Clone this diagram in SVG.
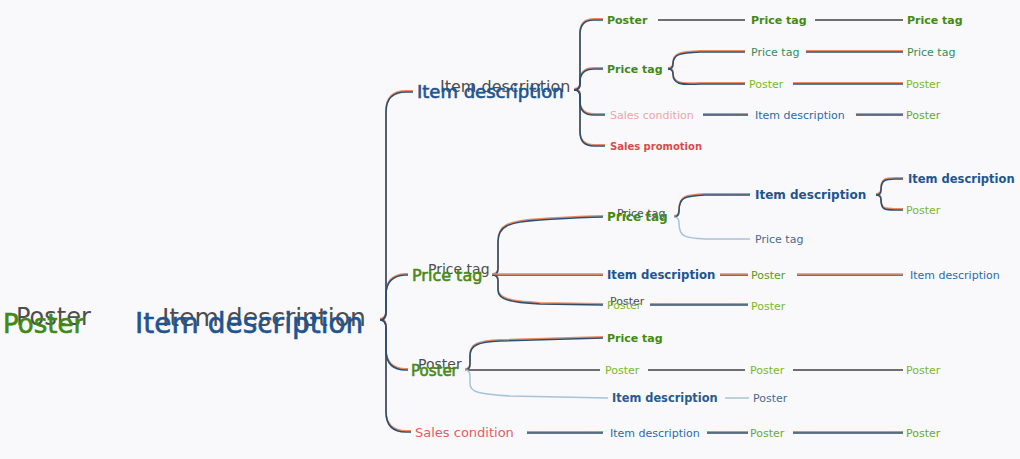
<svg xmlns="http://www.w3.org/2000/svg" xmlns:xlink="http://www.w3.org/1999/xlink" width="1020" height="459" viewBox="0 0 1020 459">
  <style>
    text { font-family: "DejaVu Sans", Verdana, sans-serif; }
    .ghost { fill: #4d4d4d; }
    .blue { fill: #1e5590; }
    .blue2 { fill: #2a6aaa; }
    .green { fill: #3f8a12; font-weight: bold; }
    .green2 { fill: #4a8a18; }
    .lgreen { fill: #7ab828; }
    .teal { fill: #3a8a5a; }
    .slate { fill: #4d6a8a; }
    .pink { fill: #eca5a5; }
    .red { fill: #d94a4a; }
    .s11 { font-size: 11px; }
    .b { font-weight: bold; }
    .heavy { stroke-width: 0.6; paint-order: stroke; }
    .edge-sh { fill: none; stroke: #ec8a64; stroke-width: 1.6; }
    .edge { fill: none; stroke: #2c4f6e; stroke-width: 1.6; }
    .edge-gray { fill: none; stroke: #6e6e6e; stroke-width: 2; }
    .edge-light { fill: none; stroke: #a9c2d6; stroke-width: 1.5; }
  </style>
  <defs>
    <!-- branch shapes, each drawn twice: warm under-stroke and dark stroke -->
    <path id="r1" d="M380,320 Q386,320 386,312 L386,112 Q386,92 406,92 L413,92"/>
    <path id="r2" d="M380,320 Q386,320 386,312 L386,295 Q386,276 405,275 L408,275"/>
    <path id="r3" d="M380,320 Q386,320 386,328 L386,350 Q386,370 406,370 L408,370"/>
    <path id="r4" d="M380,320 Q386,320 386,328 L386,412 Q386,432 406,432 L411,432"/>
    <path id="a1" d="M574,90 Q580,90 580,84 L580,34 Q580,20 594,20 L603,20"/>
    <path id="a2" d="M574,90 Q580,90 580,84 L580,82 Q580,69 594,69 L603,69"/>
    <path id="a3" d="M574,90 Q580,90 580,96 L580,102 Q580,115 594,115 L605,115"/>
    <path id="a4" d="M574,90 Q580,90 580,96 L580,132 Q580,146 594,146 L605,146"/>
    <path id="b1" d="M668,69 Q673,69 673,64 C673,54 680,53 700,52 L745,52"/>
    <path id="b2" d="M668,69 Q673,69 673,74 C673,84 680,85 700,84 L745,84"/>
    <path id="b3" d="M806,52 L903,52"/>
    <path id="b4" d="M793,84 L903,84"/>
    <path id="b5" d="M703,115 L748,115 M856,115 L903,115"/>
    <path id="p1" d="M492,275 Q498,275 498,269 L498,242 C498,226 508,222 540,220 C570,218 590,217 603,217"/>
    <path id="p2" d="M492,275 L603,275"/>
    <path id="p3" d="M492,275 Q498,275 498,281 L498,290 C498,300 510,302 540,304 L603,305"/>
    <path id="p4" d="M674,217 Q679,217 679,211 C679,197 685,196 705,195 L750,195"/>
    <path id="p5" d="M876,195 Q881,195 881,190 C881,180 885,179 895,179 L903,179"/>
    <path id="p6" d="M876,195 Q881,195 881,200 C881,210 885,210 895,210 L903,210"/>
    <path id="p7" d="M720,275 L748,275 M797,275 L903,275"/>
    <path id="p8" d="M650,305 L748,305"/>
    <path id="q1" d="M465,370 Q470,370 470,364 L470,356 C470,345 478,342 500,341 L603,338"/>
    <path id="s1" d="M527,433 L603,433 M707,433 L748,433 M793,433 L903,433"/>
  </defs>

  <rect width="1020" height="459" fill="#f9f9fc"/>

  <g id="connectors">
    <g transform="translate(0,-1.2)" class="edge-sh">
      <use xlink:href="#r1"/><use xlink:href="#r2"/><use xlink:href="#r3"/><use xlink:href="#r4"/>
      <use xlink:href="#a1"/><use xlink:href="#a2"/><use xlink:href="#a3"/><use xlink:href="#a4"/>
      <use xlink:href="#b1"/><use xlink:href="#b2"/><use xlink:href="#b3"/><use xlink:href="#b4"/><use xlink:href="#b5"/>
      <use xlink:href="#p1"/><use xlink:href="#p3"/><use xlink:href="#p4"/>
      <use xlink:href="#p5"/><use xlink:href="#p6"/><use xlink:href="#p8"/>
      <use xlink:href="#q1"/><use xlink:href="#s1"/>
    </g>
    <g class="edge">
      <use xlink:href="#r1"/><use xlink:href="#r2"/><use xlink:href="#r3"/><use xlink:href="#r4"/>
      <use xlink:href="#a1"/><use xlink:href="#a2"/><use xlink:href="#a3"/><use xlink:href="#a4"/>
      <use xlink:href="#b1"/><use xlink:href="#b2"/><use xlink:href="#b3"/><use xlink:href="#b4"/><use xlink:href="#b5"/>
      <use xlink:href="#p1"/><use xlink:href="#p3"/><use xlink:href="#p4"/>
      <use xlink:href="#p5"/><use xlink:href="#p6"/><use xlink:href="#p8"/>
      <use xlink:href="#q1"/><use xlink:href="#s1"/>
    </g>
    <!-- warm-dominant straight runs -->
    <g class="edge" stroke-width="1.3"><use xlink:href="#p2"/><use xlink:href="#p7"/></g>
    <g class="edge-sh" transform="translate(0,-1)" stroke-width="1.8"><use xlink:href="#p2"/><use xlink:href="#p7"/></g>
    <!-- gray runs -->
    <path class="edge-gray" d="M658,20 L745,20 M815,20 L903,20"/>
    <path class="edge-gray" d="M465,370 L600,370 M648,370 L745,370 M793,370 L903,370"/>
    <!-- light runs -->
    <path class="edge-light" d="M674,217 Q679,217 679,223 C679,237 685,238 705,239 L750,239"/>
    <path class="edge-light" d="M465,370 Q470,370 470,376 L470,384 C470,392 478,394 510,396 L608,398 M725,398 L749,398"/>
  </g>

  <!-- free-standing label -->
  <g id="n-poster-left">
    <text class="ghost" x="16" y="325" font-size="24">Poster</text>
    <text class="heavy" x="3" y="333" font-size="26" fill="#3f8a12" stroke="#3f8a12">Poster</text>
  </g>

  <!-- root -->
  <g id="n-root">
    <text class="ghost" x="162" y="326" font-size="25">Item description</text>
    <text class="blue heavy" x="135" y="333" font-size="28" stroke="#1e5590">Item description</text>
  </g>

  <!-- first level -->
  <g id="n-item">
    <text class="ghost" x="440" y="92" font-size="16">Item description</text>
    <text class="blue heavy" x="417" y="98" font-size="18" stroke="#1e5590">Item description</text>
  </g>
  <g id="n-price">
    <text class="ghost" x="428" y="274" font-size="14">Price tag</text>
    <text class="green2 heavy" x="412" y="281" font-size="16" stroke="#4a8a18">Price tag</text>
  </g>
  <g id="n-poster">
    <text class="ghost" x="418" y="369" font-size="14">Poster</text>
    <text class="green2 heavy" x="411" y="376" font-size="15" stroke="#4a8a18">Poster</text>
  </g>
  <g id="n-sales">
    <text x="415" y="437" font-size="13" fill="#e06060">Sales condition</text>
  </g>

  <!-- Item description branch -->
  <g id="n-item-poster"><text class="green s11" x="607" y="24">Poster</text></g>
  <g id="n-item-poster-price"><text class="green s11" x="751" y="24">Price tag</text></g>
  <g id="n-item-poster-price2"><text class="green s11" x="907" y="24">Price tag</text></g>
  <g id="n-item-price"><text class="green s11" x="607" y="73">Price tag</text></g>
  <g id="n-item-price-price"><text class="teal s11" x="751" y="56">Price tag</text></g>
  <g id="n-item-price-price2"><text class="teal s11" x="907" y="56">Price tag</text></g>
  <g id="n-item-price-poster"><text class="lgreen s11" x="749" y="88">Poster</text></g>
  <g id="n-item-price-poster2"><text class="lgreen s11" x="906" y="88">Poster</text></g>
  <g id="n-item-sales"><text class="pink s11" x="610" y="119">Sales condition</text></g>
  <g id="n-item-sales-item"><text class="blue2 s11" x="755" y="119">Item description</text></g>
  <g id="n-item-sales-poster"><text class="s11" x="906" y="119" fill="#6aaa28">Poster</text></g>
  <g id="n-item-promo"><text class="red b" x="610" y="150" font-size="10">Sales promotion</text></g>

  <!-- Price tag branch -->
  <g id="n-price-price">
    <text class="ghost" x="617" y="217" font-size="11">Price tag</text>
    <text class="green" x="607" y="221" font-size="12">Price tag</text>
  </g>
  <g id="n-price-price-item"><text class="blue b" x="755" y="199" font-size="12">Item description</text></g>
  <g id="n-price-price-item-item"><text class="blue b" x="908" y="183" font-size="11.5">Item description</text></g>
  <g id="n-price-price-item-poster"><text class="lgreen s11" x="906" y="214">Poster</text></g>
  <g id="n-price-price-price"><text class="slate s11" x="755" y="243">Price tag</text></g>
  <g id="n-price-item"><text class="blue b" x="607" y="279" font-size="11.7">Item description</text></g>
  <g id="n-price-item-poster"><text class="s11" x="751" y="279" fill="#5a9a18">Poster</text></g>
  <g id="n-price-item-poster-item"><text class="blue2 s11" x="910" y="279">Item description</text></g>
  <g id="n-price-poster">
    <text class="ghost s11" x="610" y="305">Poster</text>
    <text class="lgreen s11" x="607" y="309">Poster</text>
  </g>
  <g id="n-price-poster-poster"><text class="lgreen s11" x="751" y="310">Poster</text></g>

  <!-- Poster branch -->
  <g id="n-poster-price"><text class="green s11" x="607" y="342">Price tag</text></g>
  <g id="n-poster-poster"><text class="lgreen s11" x="605" y="374">Poster</text></g>
  <g id="n-poster-poster-poster"><text class="lgreen s11" x="750" y="374">Poster</text></g>
  <g id="n-poster-poster-poster2"><text class="lgreen s11" x="906" y="374">Poster</text></g>
  <g id="n-poster-item"><text class="b" x="612" y="402" font-size="11.4" fill="#2a5a8a">Item description</text></g>
  <g id="n-poster-item-poster"><text class="slate s11" x="753" y="402">Poster</text></g>

  <!-- Sales condition branch -->
  <g id="n-sales-item"><text class="blue2 s11" x="610" y="437">Item description</text></g>
  <g id="n-sales-item-poster"><text class="s11" x="750" y="437" fill="#6aaa28">Poster</text></g>
  <g id="n-sales-item-poster2"><text class="s11" x="906" y="437" fill="#6aaa28">Poster</text></g>
</svg>
